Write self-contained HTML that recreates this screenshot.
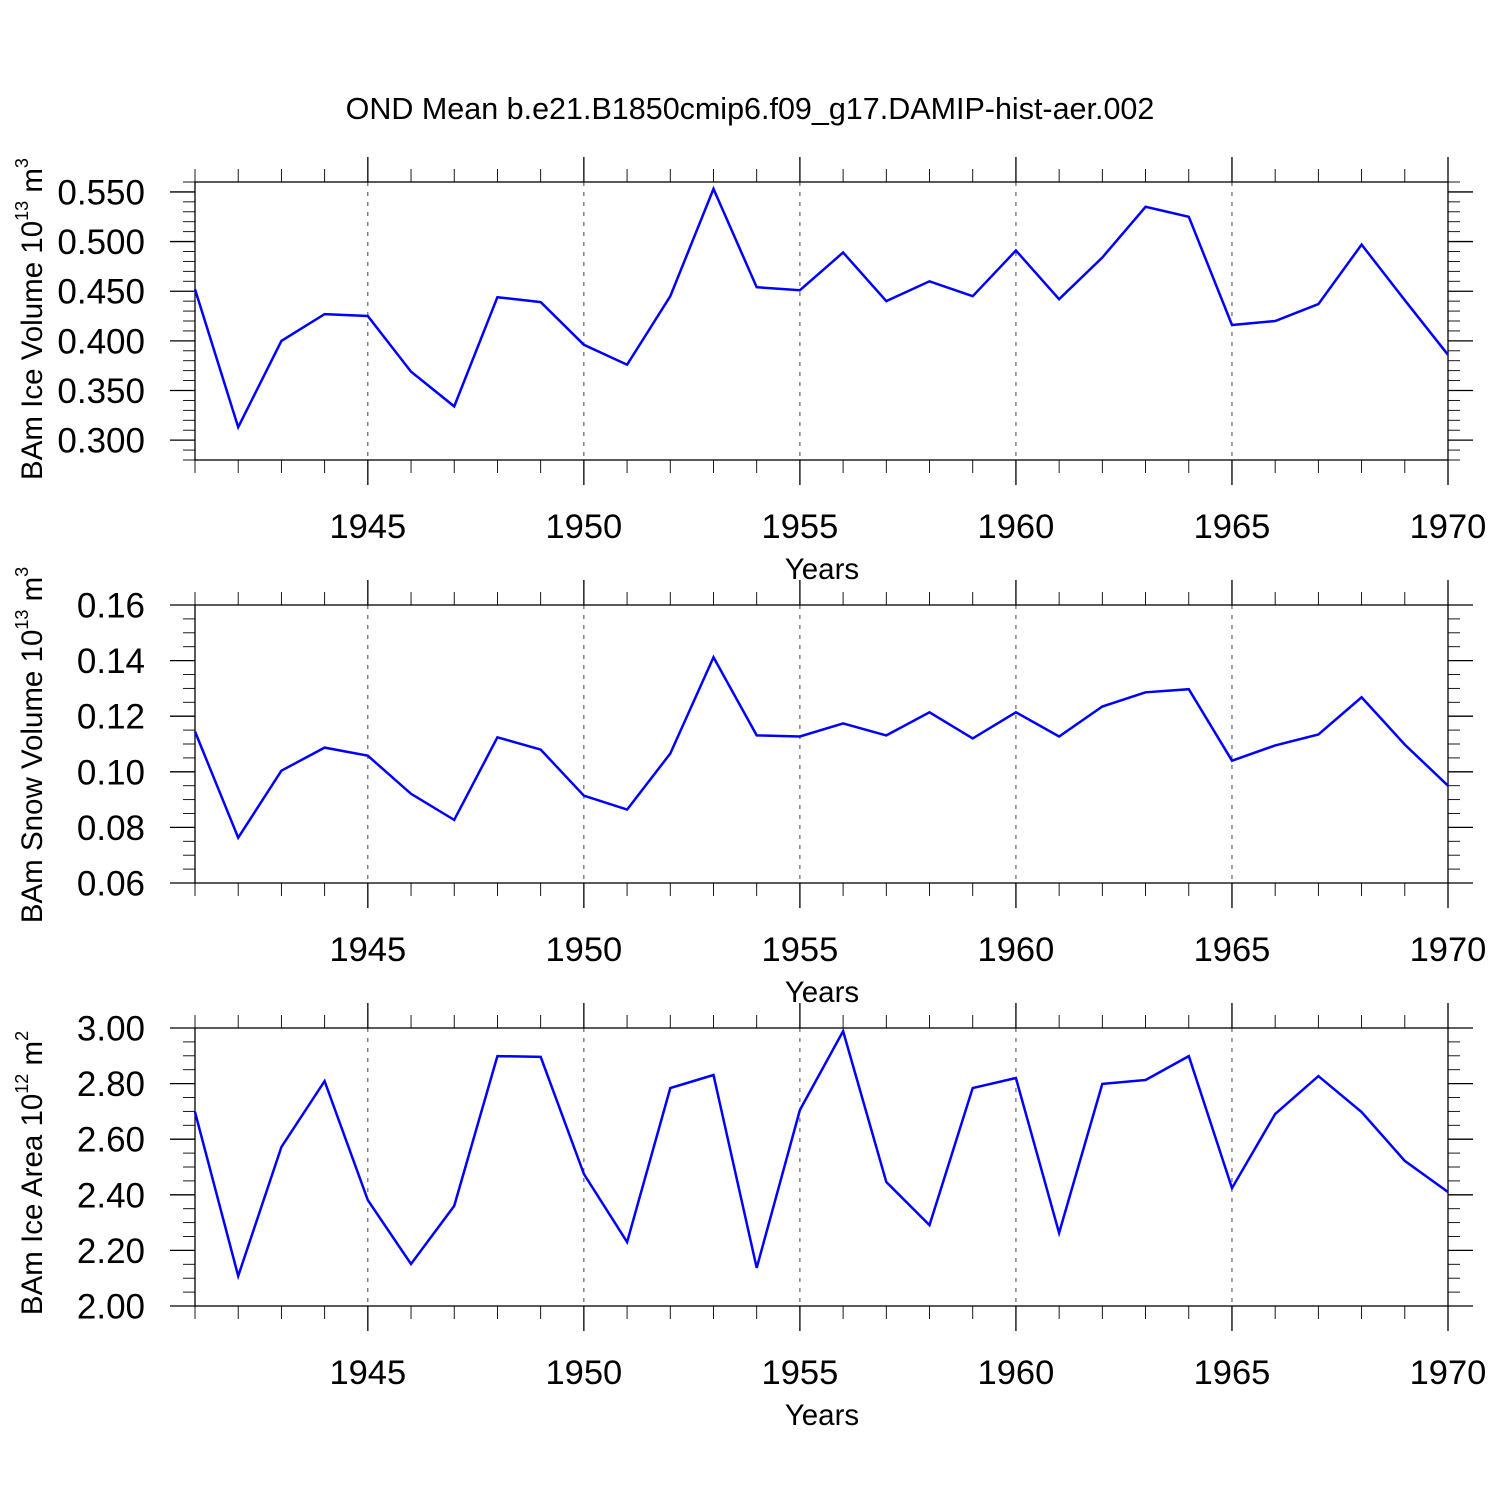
<!DOCTYPE html>
<html><head><meta charset="utf-8"><style>
html,body{margin:0;padding:0;background:#fff;}
svg{display:block;font-family:"Liberation Sans",Arial,sans-serif;}
</style></head><body>
<svg id="chart" width="1500" height="1500" viewBox="0 0 1500 1500" xmlns="http://www.w3.org/2000/svg">
<rect width="1500" height="1500" fill="#fff"/>
<text x="750" y="119" font-size="30.5" text-anchor="middle">OND Mean b.e21.B1850cmip6.f09_g17.DAMIP-hist-aer.002</text>
</svg>
<script>
const years = [1941,1942,1943,1944,1945,1946,1947,1948,1949,1950,1951,1952,1953,1954,1955,1956,1957,1958,1959,1960,1961,1962,1963,1964,1965,1966,1967,1968,1969,1970];
const iceVolume = [0.452,0.313,0.400,0.427,0.425,0.369,0.334,0.444,0.439,0.396,0.376,0.445,0.553,0.454,0.451,0.489,0.440,0.460,0.445,0.491,0.442,0.484,0.535,0.525,0.416,0.420,0.437,0.497,0.441,0.386];
const snowVolume = [0.1145,0.0763,0.1004,0.1087,0.1058,0.0921,0.0827,0.1124,0.1080,0.0914,0.0864,0.1066,0.1412,0.1131,0.1127,0.1174,0.1131,0.1214,0.1120,0.1214,0.1127,0.1235,0.1286,0.1297,0.1040,0.1095,0.1134,0.1268,0.1098,0.0950];
const iceArea = [2.698,2.108,2.572,2.809,2.381,2.151,2.360,2.899,2.896,2.475,2.230,2.784,2.831,2.137,2.705,2.989,2.446,2.291,2.784,2.820,2.263,2.799,2.813,2.899,2.424,2.691,2.827,2.698,2.522,2.410];
const xTickLabels = [1945,1950,1955,1960,1965,1970];
const iceVolTicks = ["0.300","0.350","0.400","0.450","0.500","0.550"];
const snowTicks = ["0.06","0.08","0.10","0.12","0.14","0.16"];
const areaTicks = ["2.00","2.20","2.40","2.60","2.80","3.00"];

const NS="http://www.w3.org/2000/svg";
const svg=document.getElementById('chart');
function el(tag,attrs,parent){const e=document.createElementNS(NS,tag);for(const k in attrs)e.setAttribute(k,attrs[k]);(parent||svg).appendChild(e);return e;}

const X0=195,X1=1448,XMIN=1941,XMAX=1970;
function xs(v){return X0+(v-XMIN)/(XMAX-XMIN)*(X1-X0);}

const panels=[
 {key:'ice-volume',top:182,bot:460,ymin:0.28,ymax:0.56,minor:0.01,ticks:iceVolTicks,data:iceVolume,label:'BAm Ice Volume 10',sup:'13',unit:' m',usup:'3',ly:319},
 {key:'snow-volume',top:605,bot:883,ymin:0.06,ymax:0.16,minor:0.005,ticks:snowTicks,data:snowVolume,label:'BAm Snow Volume 10',sup:'13',unit:' m',usup:'3',ly:745},
 {key:'ice-area',top:1028,bot:1306,ymin:2.0,ymax:3.0,minor:0.05,ticks:areaTicks,data:iceArea,label:'BAm Ice Area 10',sup:'12',unit:' m',usup:'2',ly:1173}
];

panels.forEach(p=>{
 const g=el('g',{});
 
 
 const ys=v=>p.bot-(v-p.ymin)/(p.ymax-p.ymin)*(p.bot-p.top);
 xTickLabels.forEach(yr=>{ if(yr<XMAX){
   const l=el('line',{x1:xs(yr),x2:xs(yr),y1:p.top,y2:p.bot,stroke:'#444','stroke-width':1,'stroke-dasharray':'4,6'},g);
   
   
 }});
 for(let yr=XMIN;yr<=XMAX;yr++){
   const maj=yr%5===0, len=maj?25:13;
   el('line',{x1:xs(yr),x2:xs(yr),y1:p.top-len,y2:p.top,stroke:'#000','stroke-width':maj?1.3:0.9},g);
   el('line',{x1:xs(yr),x2:xs(yr),y1:p.bot,y2:p.bot+len,stroke:'#000','stroke-width':maj?1.3:0.9},g);
 }
 const n=Math.round((p.ymax-p.ymin)/p.minor);
 for(let i=0;i<=n;i++){
   const v=p.ymin+i*p.minor;
   const isMaj=p.ticks.some(t=>Math.abs(parseFloat(t)-v)<1e-6);
   const len=isMaj?25:12;
   el('line',{x1:X0-len,x2:X0,y1:ys(v),y2:ys(v),stroke:'#000','stroke-width':isMaj?1.3:0.9},g);
   el('line',{x1:X1,x2:X1+len,y1:ys(v),y2:ys(v),stroke:'#000','stroke-width':isMaj?1.3:0.9},g);
 }
 p.ticks.forEach(t=>{
   const tx=el('text',{x:145,y:ys(parseFloat(t))+12.5,'font-size':35,'text-anchor':'end'},g);
   tx.textContent=t;
   
   
 });
 xTickLabels.forEach(yr=>{
   const tx=el('text',{x:xs(yr),y:p.bot+78,'font-size':34.5,'text-anchor':'middle'},g);
   tx.textContent=yr;
   
   
 });
 const xt=el('text',{x:822,y:p.bot+119,'font-size':29.5,'text-anchor':'middle'},g);
 xt.textContent='Years';
 
 
 const yt=el('text',{transform:`translate(42,${p.ly}) rotate(-90)`,'font-size':29.5,'text-anchor':'middle'},g);
 
 
 const a=el('tspan',{},yt);a.textContent=p.label;
 const b=el('tspan',{dy:-14,'font-size':18},yt);b.textContent=p.sup;
 const c=el('tspan',{dy:14},yt);c.textContent=p.unit;
 const d=el('tspan',{dy:-14,'font-size':18},yt);d.textContent=p.usup;
 const fr=el('rect',{x:X0,y:p.top,width:X1-X0,height:p.bot-p.top,fill:'none',stroke:'#000','stroke-width':1.3},g);
 
 
 const pts=p.data.map((v,i)=>xs(years[i]).toFixed(1)+','+ys(v).toFixed(1)).join(' ');
 const pl=el('polyline',{points:pts,fill:'none',stroke:'#0000ff','stroke-width':2.5,'stroke-linejoin':'miter'},g);
 
 
});
</script>
</body></html>
